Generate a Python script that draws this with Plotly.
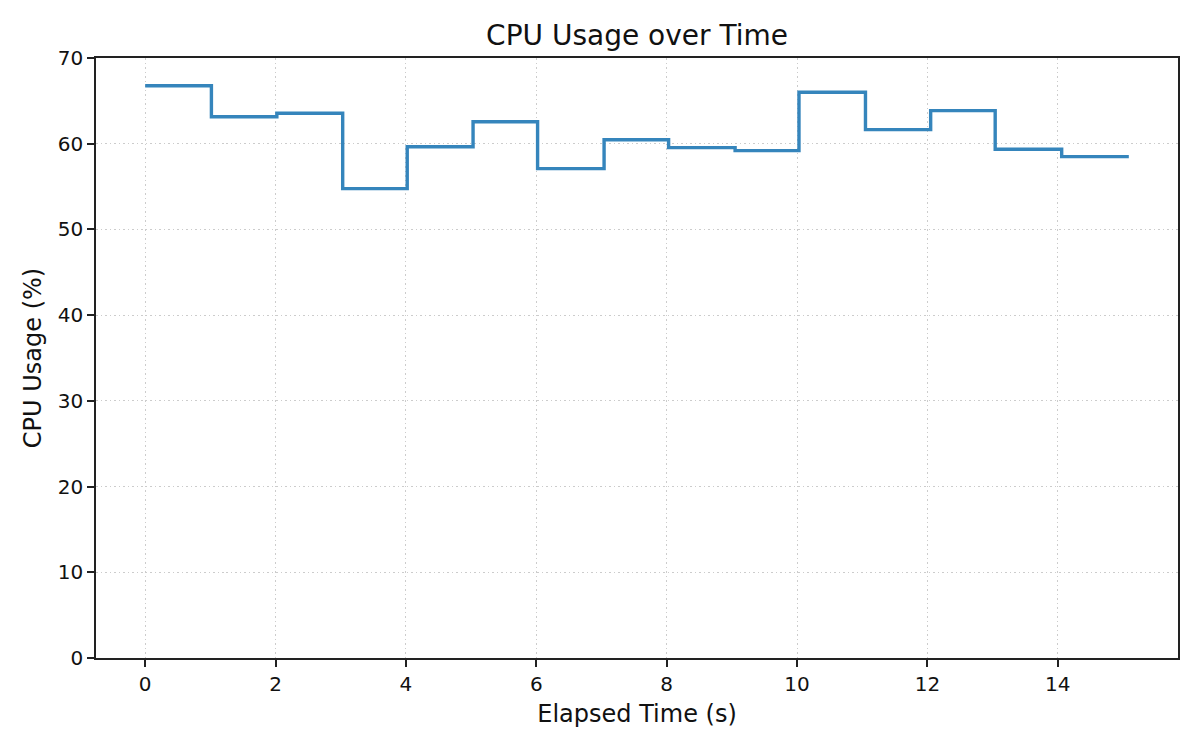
import plotly.graph_objects as go

# Data
elapsed_time = [0.0, 1.016, 2.02, 3.03, 4.02, 5.03, 6.02, 7.04, 8.03, 9.05,
                10.03, 11.05, 12.05, 13.04, 14.06, 15.09]
cpu_usage = [66.77, 63.15, 63.55, 54.76, 59.65, 62.57, 57.09, 60.47, 59.54, 59.19,
             66.0, 61.64, 63.86, 59.35, 58.49, 58.49]
x_ticks = [0, 2, 4, 6, 8, 10, 12, 14]
y_ticks = [0, 10, 20, 30, 40, 50, 60, 70]

FONT = "DejaVu Sans"
LINE_COLOR = "rgb(53,133,188)"

fig = go.Figure()
fig.add_trace(go.Scatter(
    x=elapsed_time, y=cpu_usage, mode="lines",
    line=dict(shape="hv", color=LINE_COLOR, width=3.4),
    showlegend=False,
))

xmin, xmax = min(elapsed_time), max(elapsed_time)
pad = (xmax - xmin) * 0.05

axis_common = dict(
    showline=True, mirror=True, linecolor="#222222", linewidth=1.7,
    ticks="outside", ticklen=7, tickwidth=1.7, tickcolor="#222222",
    showgrid=True, gridcolor="#cccccc", gridwidth=1.4, griddash="1.5px,3px",
    zeroline=False,
    tickfont=dict(family=FONT, size=20, color="#111111"),
)

fig.update_layout(
    width=1192, height=742,
    margin=dict(l=88, r=22, t=50, b=92, autoexpand=False),
    paper_bgcolor="white", plot_bgcolor="white",
    font=dict(family=FONT, color="#111111"),
    title=dict(text="CPU Usage over Time", x=0.5, xanchor="center",
               xref="paper", y=1 - 27 / 742, yref="container", yanchor="middle",
               font=dict(family=FONT, size=28, color="#111111")),
    xaxis=dict(range=[xmin - pad, xmax + pad], tickvals=x_ticks,
               title=dict(text="Elapsed Time (s)", standoff=10,
                          font=dict(family=FONT, size=24, color="#111111")),
               **axis_common),
    yaxis=dict(range=[0, 70], tickvals=y_ticks,
               title=dict(text="CPU Usage (%)", standoff=9,
                          font=dict(family=FONT, size=24, color="#111111")),
               **axis_common),
)

fig.write_html("out.html")
